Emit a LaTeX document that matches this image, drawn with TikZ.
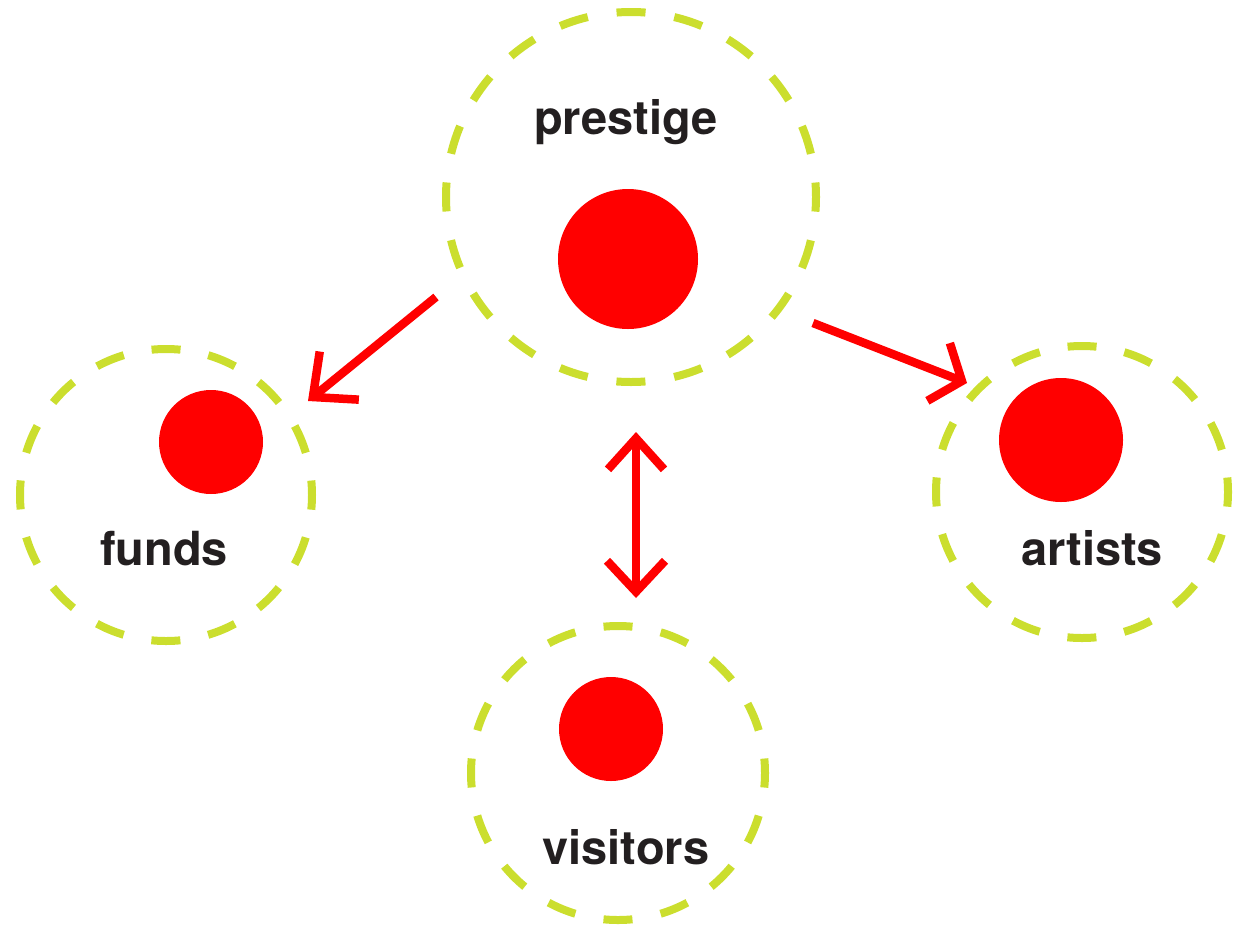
\documentclass[tikz,border=0pt]{standalone}
\usepackage{fontspec}
\setmainfont{TeX Gyre Heros}
\usetikzlibrary{arrows.meta}
\definecolor{ringc}{RGB}{203,222,46}
\definecolor{dotc}{RGB}{255,0,0}
\definecolor{txtc}{RGB}{35,31,32}
\tikzset{
  ring/.style={circle, draw=ringc, line width=8pt, inner sep=0pt, minimum size=#1},
  dot/.style={circle, fill=dotc, inner sep=0pt, minimum size=#1},
  lbl/.style={text=txtc, font=\fontsize{47}{50}\selectfont\bfseries, inner sep=0pt, anchor=base},
  arr/.style={draw=dotc, line width=8.5pt, -{Straight Barb[length=34pt,width=62pt]}},
  arrwide/.style={draw=dotc, line width=8.5pt, -{Straight Barb[length=25pt,width=62pt]}},
  darr/.style={draw=dotc, line width=8.5pt, {Straight Barb[length=31pt,width=56pt]}-{Straight Barb[length=31pt,width=58pt]}}
}
\begin{document}
\begin{tikzpicture}[x=1pt,y=-1pt]
\useasboundingbox (0,0) rectangle (1233,924);
% rings
\node[ring=370pt, dash pattern=on 29pt off 29.12pt, dash phase=14.5pt] (pring) at (631,197) {};
\node[ring=292pt, dash pattern=on 29pt off 28.33pt, dash phase=14.5pt] (fring) at (166,495) {};
\node[ring=292pt, dash pattern=on 29pt off 28.33pt, dash phase=14.5pt] (aring) at (1082,492) {};
\node[ring=294pt, dash pattern=on 29pt off 28.73pt, dash phase=14.5pt] (vring) at (618,773) {};
% dots
\node[dot=140pt] (pdot) at (628,259) {};
\node[dot=104pt] (fdot) at (211,442) {};
\node[dot=124pt] (adot) at (1061,440) {};
\node[dot=104pt] (vdot) at (611,729) {};
% labels
\node[lbl] (plbl) at (626,134) {prestige};
\node[lbl] (flbl) at (164,565) {funds};
\node[lbl] (albl) at (1092,565) {artists};
\node[lbl] (vlbl) at (626,864) {visitors};
% arrows
\coordinate (a1s) at (436,297);
\coordinate (a1e) at (308,401);
\coordinate (a2s) at (813,323);
\coordinate (a2e) at (967,383);
\coordinate (a3s) at (636,432);
\coordinate (a3e) at (636,598);
\draw[arr] (a1s) -- (a1e);
\draw[arrwide] (a2s) -- (a2e);
\draw[darr] (a3s) -- (a3e);
\end{tikzpicture}
\end{document}
